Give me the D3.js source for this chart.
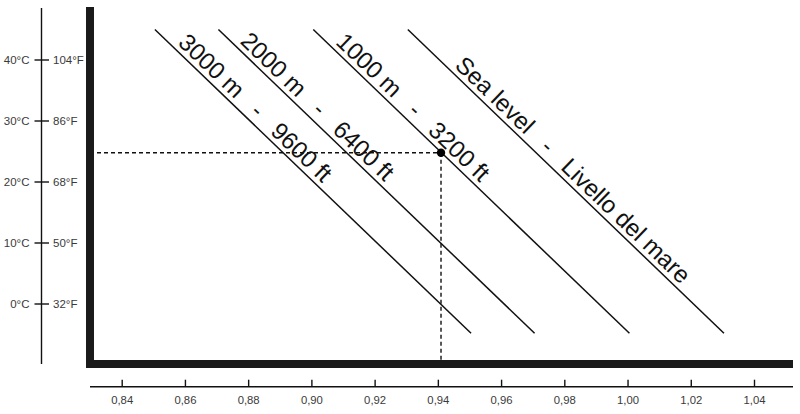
<!DOCTYPE html>
<html>
<head>
<meta charset="utf-8">
<script src="https://cdn.jsdelivr.net/npm/d3@7"></script>
<style>
  html, body { margin: 0; padding: 0; background: #fff; }
  svg { display: block; }
  text { font-family: "Liberation Sans", Arial, sans-serif; }
</style>
</head>
<body>
<svg id="chart" width="800" height="414"></svg>
<script>
// ---- data ----
const ratioTicks = [0.84, 0.86, 0.88, 0.90, 0.92, 0.94, 0.96, 0.98, 1.00, 1.02, 1.04];
const tempTicksC = [0, 10, 20, 30, 40];
const tempLabelsC = ["0°C", "10°C", "20°C", "30°C", "40°C"];
const tempLabelsF = ["32°F", "50°F", "68°F", "86°F", "104°F"];
const lineLabels = ["Sea level   -   Livello del mare", "1000 m   -   3200 ft", "2000 m   -   6400 ft", "3000 m   -   9600 ft"];
const lineTempTop = [45, 45, 45, 45];
const lineTempBottom = [-4.8, -4.8, -4.8, -4.8];
const lineRatioTop = [0.9305, 0.9006, 0.8706, 0.8505];
const lineRatioBottom = [1.0305, 1.0006, 0.9706, 0.9505];
const exampleRatio = [0.941];
const exampleTemp = [24.8];

// ---- scales ----
const x = d3.scaleLinear().domain([0.84, 1.04]).range([121.7, 754]);
const y = d3.scaleLinear().domain([0, 40]).range([304, 60]);

const svg = d3.select("#chart");
const ink = "#111";
const labelColor = "#3a3a3a";

// ---- temperature axis (left) ----
const tAxis = svg.append("g");
tAxis.append("line").attr("x1", 41.5).attr("x2", 41.5).attr("y1", 8).attr("y2", 364)
  .attr("stroke", ink).attr("stroke-width", 1.4);
tempTicksC.forEach((t, i) => {
  const yy = y(t);
  tAxis.append("line").attr("x1", 34.5).attr("x2", 49).attr("y1", yy).attr("y2", yy)
    .attr("stroke", ink).attr("stroke-width", 1.4);
  tAxis.append("text").attr("x", 29.5).attr("y", yy).attr("dy", "0.36em")
    .attr("text-anchor", "end").attr("font-size", 11.5).attr("fill", labelColor).text(tempLabelsC[i]);
  tAxis.append("text").attr("x", 53).attr("y", yy).attr("dy", "0.36em")
    .attr("text-anchor", "start").attr("font-size", 11.5).attr("fill", labelColor).text(tempLabelsF[i]);
});

// ---- ratio axis (bottom) ----
const xAxis = d3.axisTop(x).tickValues(ratioTicks).tickSize(7).tickPadding(0)
  .tickFormat(d => d3.format(".2f")(d).replace(".", ","));
const gx = svg.append("g").attr("transform", "translate(0,386.7)").call(xAxis);
gx.select(".domain").remove();
gx.selectAll(".tick line").attr("stroke", ink).attr("stroke-width", 1.4);
gx.selectAll(".tick text").attr("y", 17.5).attr("dy", 0).attr("font-size", 11.3)
  .attr("fill", labelColor).attr("font-family", "Liberation Sans, Arial, sans-serif");
gx.append("line").attr("x1", 90 ).attr("x2", 793).attr("y1", 0).attr("y2", 0)
  .attr("stroke", ink).attr("stroke-width", 1.4);

// ---- thick frame ----
svg.append("rect").attr("x", 86).attr("y", 7).attr("width", 8).attr("height", 361).attr("fill", "#1a1a1a");
svg.append("rect").attr("x", 86).attr("y", 360).attr("width", 707).attr("height", 8).attr("fill", "#1a1a1a");

// ---- altitude lines and labels ----
const labelStart = [59, 25, 24, 26];
lineLabels.forEach((lab, i) => {
  const x1 = x(lineRatioTop[i]), y1 = y(lineTempTop[i]);
  const x2 = x(lineRatioBottom[i]), y2 = y(lineTempBottom[i]);
  svg.append("line").attr("x1", x1).attr("y1", y1).attr("x2", x2).attr("y2", y2)
    .attr("stroke", ink).attr("stroke-width", 1.5);
  const ang = Math.atan2(y2 - y1, x2 - x1);
  const ux = Math.cos(ang), uy = Math.sin(ang);
  const nx = uy, ny = -ux; // normal to upper right
  const off = 5;
  const px = x1 + ux * labelStart[i] + nx * off;
  const py = y1 + uy * labelStart[i] + ny * off;
  svg.append("text")
    .attr("transform", `translate(${px},${py}) rotate(${ang * 180 / Math.PI})`)
    .attr("font-size", 24).attr("fill", ink).style("white-space", "pre")
    .attr("xml:space", "preserve")
    .text(lab);
});

// ---- example reading ----
const ex = x(exampleRatio[0]), ey = y(exampleTemp[0]);
svg.append("line").attr("x1", 97).attr("x2", ex).attr("y1", ey).attr("y2", ey)
  .attr("stroke", ink).attr("stroke-width", 1.4).attr("stroke-dasharray", "4,3");
svg.append("line").attr("x1", ex).attr("x2", ex).attr("y1", ey).attr("y2", 360)
  .attr("stroke", ink).attr("stroke-width", 1.4).attr("stroke-dasharray", "4,3");
svg.append("circle").attr("cx", ex).attr("cy", ey).attr("r", 4.2).attr("fill", "#000");
</script>
</body>
</html>
